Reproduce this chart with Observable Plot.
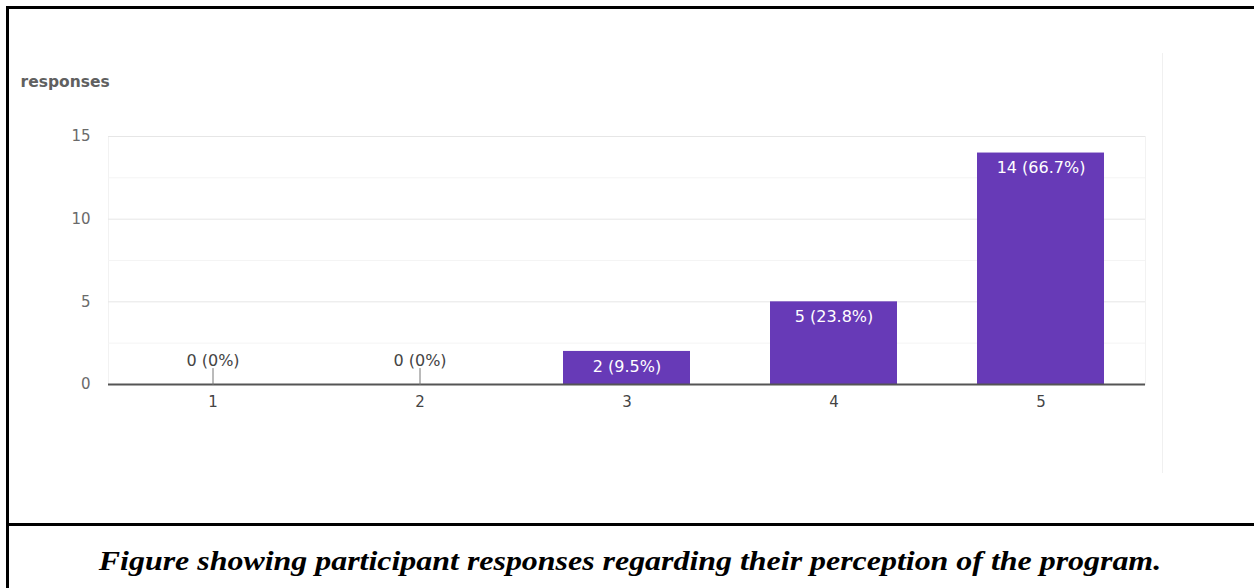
<!DOCTYPE html>
<html>
<head>
<meta charset="utf-8">
<script src="https://cdn.jsdelivr.net/npm/d3@7"></script>
<script src="https://cdn.jsdelivr.net/npm/@observablehq/plot@0.6"></script>
<style>
  html, body { margin: 0; padding: 0; background: #fff; }
  body { width: 1254px; height: 588px; position: relative; overflow: hidden; }
  #frame {
    position: absolute; left: 6px; top: 6px; width: 1260px; height: 600px;
    border-left: 3px solid #000; border-top: 3px solid #000; box-sizing: border-box;
  }
  #divider { position: absolute; left: 6px; top: 523px; width: 1260px; height: 3px; background: #000; }
  #panel-edge { position: absolute; left: 1162px; top: 53px; width: 1px; height: 420px; background: #f0f0f0; }
  #chart { position: absolute; left: 0; top: 0; }
  #caption {
    position: absolute; left: 0; width: 1260px; top: 547px; text-align: center;
    font-family: "Liberation Serif", "Times New Roman", serif; font-weight: bold; font-style: italic;
    font-size: 28px; line-height: 28px; color: #000; white-space: nowrap;
    transform: scaleX(1.14); transform-origin: 630px 0;
  }
</style>
</head>
<body>
<div id="frame"></div>
<div id="divider"></div>
<div id="panel-edge"></div>
<div id="chart"></div>
<div id="caption">Figure showing participant responses regarding their perception of the program.</div>
<script>
// Rating scale and number of responses for each rating
const ratings = ["1", "2", "3", "4", "5"];
const counts = [0, 0, 2, 5, 14];
const yTicks = [0, 5, 10, 15];
const yMinorTicks = [2.5, 7.5, 12.5];

const total = d3.sum(counts);
const pct = (c) => `${+(c / total * 100).toFixed(1)}%`;
const rows = ratings.map((r, i) => ({rating: r, count: counts[i], label: `${counts[i]} (${pct(counts[i])})`}));
const filled = rows.filter((d) => d.count > 0);
const empty = rows.filter((d) => d.count === 0);

const purple = "#673ab7";
// short leader line drawn upward from the baseline for empty categories
const stem = {draw(context, l) { context.moveTo(0, 0); context.lineTo(0, -l); }};

const chart = Plot.plot({
  width: 1254,
  height: 520,
  marginLeft: 108,
  marginRight: 109,
  marginTop: 136,
  marginBottom: 136,
  style: {fontFamily: "'DejaVu Sans', Arial, sans-serif", fontSize: "15px", color: "#555", background: "transparent"},
  x: {domain: ratings, paddingInner: 0.386, paddingOuter: 0.193, label: null},
  y: {domain: [0, 15], label: null},
  marks: [
    Plot.frame({stroke: "#f2f2f2"}),
    Plot.ruleY(yMinorTicks, {stroke: "#f4f4f4"}),
    Plot.ruleY(yTicks, {stroke: "#e6e6e6"}),
    Plot.axisY(yTicks, {tickSize: 0, tickPadding: 18, fill: "#6a6a6a", fontSize: 15}),
    Plot.axisX({tickSize: 0, tickPadding: 12, fill: "#444", fontSize: 15}),
    Plot.barY(filled, {x: "rating", y: "count", fill: purple}),
    Plot.ruleY([0], {stroke: "#555", strokeWidth: 1.8}),
    Plot.vector(empty, {x: "rating", y: 0, length: 16, rotate: 0, anchor: "start", shape: stem, stroke: "#777", strokeWidth: 1}),
    Plot.text(filled, {x: "rating", y: "count", text: "label", dy: 15, fill: "#fff", fontSize: 16}),
    Plot.text(empty, {x: "rating", y: 0, text: "label", dy: -24, fill: "#444", fontSize: 16}),
    Plot.text(["responses"], {frameAnchor: "top-left", dx: -88, dy: -61, textAnchor: "start", fill: "#606060", fontSize: 15.5, fontWeight: "bold"})
  ]
});
document.getElementById("chart").appendChild(chart);
</script>
</body>
</html>
